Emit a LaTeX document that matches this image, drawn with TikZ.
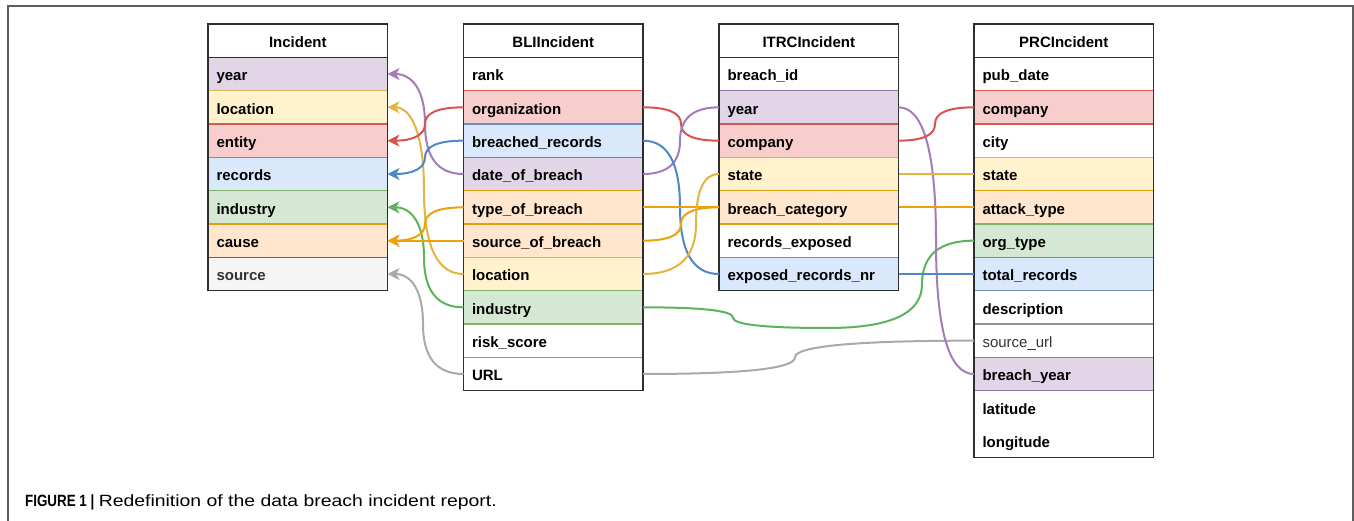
\documentclass[tikz,border=0pt]{standalone}
\usepackage{fontspec}
\setmainfont{Liberation Sans}
\usepackage{graphicx}
\usetikzlibrary{arrows.meta,calc}

\definecolor{pfill}{HTML}{E1D5E7}\definecolor{pline}{HTML}{9673A6}
\definecolor{yfill}{HTML}{FFF2CC}\definecolor{yline}{HTML}{D6B656}
\definecolor{rfill}{HTML}{F8CECC}\definecolor{rline}{HTML}{D05A56}
\definecolor{bfill}{HTML}{DAE8FC}\definecolor{bline}{HTML}{6C8EBF}
\definecolor{gfill}{HTML}{D5E8D4}\definecolor{gline}{HTML}{82B366}
\definecolor{ofill}{HTML}{FFE6CC}\definecolor{oline}{HTML}{E0A010}
\definecolor{sfill}{HTML}{F5F5F5}\definecolor{sline}{HTML}{666666}\definecolor{stext}{HTML}{333333}
\definecolor{outc}{HTML}{2E2E2E}
\definecolor{framec}{HTML}{5E5E5E}
\definecolor{ep}{HTML}{A47CB8}
\definecolor{ey}{HTML}{E2B53E}
\definecolor{er}{HTML}{D9534F}
\definecolor{eb}{HTML}{4E88C6}
\definecolor{eg}{HTML}{5CB35C}
\definecolor{eo}{HTML}{EFA10B}
\definecolor{es}{HTML}{A9A9A9}

\newcommand\rowfont{\fontsize{15pt}{18pt}\selectfont\bfseries}
\newcommand\rowfontreg{\fontsize{15pt}{18pt}\selectfont\mdseries}

\tikzset{
  row/.style={rectangle, anchor=north west, outer sep=0pt,
    minimum width=179.5pt, minimum height=33.333pt,
    inner xsep=8.5pt, inner ysep=0pt, text width=162.5pt, align=left,
    text height=14.6pt, text depth=1pt, font=\rowfont, line width=1.2pt},
  hdr/.style={align=center, fill=white, draw=outc},
  rwht/.style={draw=none, fill=none},
  rpur/.style={fill=pfill, draw=pline},
  ryel/.style={fill=yfill, draw=yline},
  rred/.style={fill=rfill, draw=rline},
  rblu/.style={fill=bfill, draw=bline},
  rgrn/.style={fill=gfill, draw=gline},
  rorg/.style={fill=ofill, draw=oline},
  rgry/.style={fill=sfill, draw=sline, text=stext},
  rgl/.style={fill=white, draw=sline!70},
  rsu/.style={fill=white, draw=sline!70, text=stext, font=\rowfontreg},
  outl/.style={draw=outc, line width=1.6pt},
  conn/.style={line width=2pt},
  arr/.style={-{Stealth[length=12pt,width=12pt,inset=3.5pt]}},
  qc/.style={to path={.. controls ($(\tikztostart)!0.6667!#1$) and ($(\tikztotarget)!0.6667!#1$) .. (\tikztotarget)}},
}

\begin{document}
\begin{tikzpicture}[x=1pt,y=-1pt]
\useasboundingbox (0,0) rectangle (1354,521);
\fill[white] (0,0) rectangle (1354,521);

% frame
\draw[framec, line width=1.3pt] (8,521) -- (8,6) -- (1353,6) -- (1353,521);

% ---------- Incident ----------
\node[row,hdr] (inc-h) at (208,24) {Incident};
\foreach \n/\t/\s [count=\i from 0] in {year/year/rpur, loc/location/ryel, ent/entity/rred, rec/records/rblu, ind/industry/rgrn, cause/cause/rorg, src/source/rgry}
  \node[row,\s] (inc-\n) at (208,{57.333+33.333*\i}) {\t};
\draw[outl] (inc-h.north west) rectangle (inc-src.south east);
\draw[outl] (inc-h.south west) -- (inc-h.south east);

% ---------- BLIIncident ----------
\node[row,hdr] (bli-h) at (463.5,24) {BLIIncident};
\foreach \n/\t/\s [count=\i from 0] in {rank/rank/rwht, org/organization/rred, brec/breached\_records/rblu, date/date\_of\_breach/rpur, type/type\_of\_breach/rorg, sob/source\_of\_breach/rorg, loc/location/ryel, ind/industry/rgrn, risk/risk\_score/rwht, url/URL/rgl}
  \node[row,\s] (bli-\n) at (463.5,{57.333+33.333*\i}) {\t};
\draw[outl] (bli-h.north west) rectangle (bli-url.south east);
\draw[outl] (bli-h.south west) -- (bli-h.south east);

% ---------- ITRCIncident ----------
\node[row,hdr] (itrc-h) at (719,24) {ITRCIncident};
\foreach \n/\t/\s [count=\i from 0] in {bid/breach\_id/rwht, year/year/rpur, comp/company/rred, state/state/ryel, cat/breach\_category/rorg, rexp/records\_exposed/rwht, exp/exposed\_records\_nr/rblu}
  \node[row,\s] (itrc-\n) at (719,{57.333+33.333*\i}) {\t};
\draw[outl] (itrc-h.north west) rectangle (itrc-exp.south east);
\draw[outl] (itrc-h.south west) -- (itrc-h.south east);

% ---------- PRCIncident ----------
\node[row,hdr] (prc-h) at (974,24) {PRCIncident};
\foreach \n/\t/\s [count=\i from 0] in {pub/pub\_date/rwht, comp/company/rred, city/city/rwht, state/state/ryel, att/attack\_type/rorg, org/org\_type/rgrn, tot/total\_records/rblu, desc/description/rwht, surl/source\_url/rsu, by/breach\_year/rpur, lat/latitude/rwht, lon/longitude/rwht}
  \node[row,\s] (prc-\n) at (974,{57.333+33.333*\i}) {\t};
\draw[outl] (prc-h.north west) rectangle (prc-lon.south east);
\draw[outl] (prc-h.south west) -- (prc-h.south east);

% ---------- connectors: BLI -> Incident ----------
\draw[conn,arr,ep] (bli-date.west) to[qc={(425,174)}] (425,124) to[qc={(425,74)}] (inc-year.east);
\draw[conn,arr,ey] (bli-loc.west) to[qc={(424,274)}] (424,190.67) to[qc={(424,107.33)}] (inc-loc.east);
\draw[conn,arr,er] (bli-org.west) to[qc={(425,107.33)}] (425,124) to[qc={(425,140.67)}] (inc-ent.east);
\draw[conn,arr,eb] (bli-brec.west) to[qc={(425,140.67)}] (425,157.33) to[qc={(425,174)}] (inc-rec.east);
\draw[conn,arr,eg] (bli-ind.west) to[qc={(424,307.33)}] (424,257.33) to[qc={(424,207.33)}] (inc-ind.east);
\draw[conn,arr,eo] (bli-type.west) to[qc={(425,207.33)}] (425,224) to[qc={(425,240.67)}] (inc-cause.east);
\draw[conn,arr,eo] (bli-sob.west) -- (inc-cause.east);
\draw[conn,arr,es] (bli-url.west) to[qc={(423,374)}] (423,324) to[qc={(423,274)}] (inc-src.east);

% ---------- connectors: BLI -> ITRC / PRC ----------
\draw[conn,er] (bli-org.east) to[qc={(681,107.33)}] (681,124) to[qc={(681,140.67)}] (itrc-comp.west);
\draw[conn,ep] (bli-date.east) to[qc={(680,174)}] (680,140.67) to[qc={(680,107.33)}] (itrc-year.west);
\draw[conn,eb] (bli-brec.east) to[qc={(680,140.67)}] (680,207.33) to[qc={(680,274)}] (itrc-exp.west);
\draw[conn,eo] (bli-type.east) -- (itrc-cat.west);
\draw[conn,eo] (bli-sob.east) to[qc={(681,240.67)}] (681,224) to[qc={(681,207.33)}] (itrc-cat.west);
\draw[conn,ey] (bli-loc.east) to[qc={(696,274)}] (696,224) to[qc={(696,174)}] (itrc-state.west);
\draw[conn,eg] (bli-ind.east) to[qc={(733,307.33)}] (733,317.67) to[qc={(733,328)}] (827.5,328)
   to[qc={(922,328)}] (922,284.33) to[qc={(922,240.67)}] (prc-org.west);
\draw[conn,es] (bli-url.east) to[qc={(795,374)}] (795,357.33) to[qc={(795,340.67)}] (prc-surl.west);

% ---------- connectors: ITRC -> PRC ----------
\draw[conn,ep] (itrc-year.east) to[qc={(936,107.33)}] (936,240.67) to[qc={(936,374)}] (prc-by.west);
\draw[conn,er] (itrc-comp.east) to[qc={(935,140.67)}] (935,124) to[qc={(935,107.33)}] (prc-comp.west);
\draw[conn,ey] (itrc-state.east) -- (prc-state.west);
\draw[conn,eo] (itrc-cat.east) -- (prc-att.west);
\draw[conn,eb] (itrc-exp.east) -- (prc-tot.west);

% ---------- caption ----------
\node[anchor=base west, inner sep=0pt] (cap) at (25,506.5)
  {\fontsize{16.3pt}{19pt}\selectfont\scalebox{0.82}[1]{\bfseries FIGURE 1 |}\ \scalebox{1.19}[1]{Redefinition of the data breach incident report.}};
\end{tikzpicture}
\end{document}
